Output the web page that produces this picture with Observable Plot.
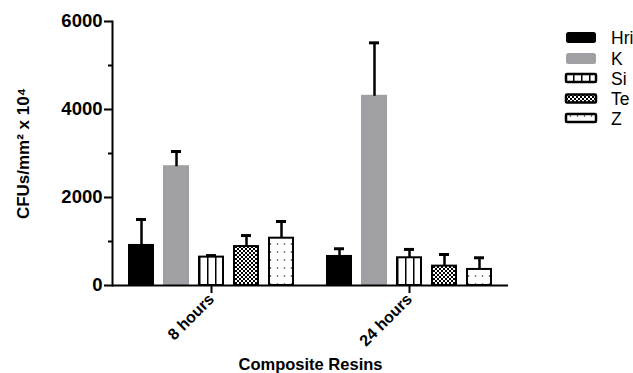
<!DOCTYPE html>
<html><head><meta charset="utf-8">
<script src="https://cdn.jsdelivr.net/npm/d3@7"></script>
<script src="https://cdn.jsdelivr.net/npm/@observablehq/plot@0.6"></script>
<style>
body{margin:0;background:#fff}
#wrap{position:relative;width:633px;height:373px;font-family:"Liberation Sans",Arial,sans-serif;background:#fff}
#legend{position:absolute;left:0;top:0}
</style>
</head><body>
<svg width="0" height="0" style="position:absolute">
<defs>
<pattern id="pSi" patternUnits="objectBoundingBox" width="0.333333" height="1">
<rect x="0" y="0" width="100" height="2000" fill="#fff"/><rect x="0" y="0" width="1.5" height="2000" fill="#000"/>
</pattern>
<pattern id="pTe" patternUnits="userSpaceOnUse" width="4" height="4">
<rect x="0" y="0" width="4" height="4" fill="#fff"/><rect x="0" y="0" width="2" height="2" fill="#000"/><rect x="2" y="2" width="2" height="2" fill="#000"/>
</pattern>
<pattern id="pZ" patternUnits="userSpaceOnUse" width="7" height="8">
<rect x="0" y="0" width="7" height="8" fill="#fff"/><circle cx="3.5" cy="4" r="0.8" fill="#333"/>
</pattern>
<pattern id="pSiL" patternUnits="userSpaceOnUse" x="565" y="0" width="8" height="10">
<rect x="0" y="0" width="8" height="10" fill="#fff"/><rect x="0" y="0" width="1.5" height="10" fill="#000"/>
</pattern>
</defs>
</svg>
<div id="wrap"></div>
<script>
const times = ["8 hours", "24 hours"];
const resins = ["Hri", "K", "Si", "Te", "Z"];
const mean8h = [910, 2700, 645, 885, 1075];
const err8h = [590, 345, 35, 250, 380];
const mean24h = [660, 4300, 630, 440, 365];
const err24h = [175, 1215, 190, 265, 265];
const yMajor = [0, 2000, 4000, 6000];
const yMinor = [1000, 3000, 5000];
const fills = ["#000", "#a0a0a4", "url(#pSi)", "url(#pTe)", "url(#pZ)"];
const legendFills = ["#000", "#a0a0a4", "url(#pSiL)", "url(#pTe)", "url(#pZ)"];

const means = [mean8h, mean24h];
const errs = [err8h, err24h];
const data = times.flatMap((t, i) => resins.map((r, j) => ({time: t, resin: r, mean: means[i][j], err: errs[i][j]})));

const font = "'Liberation Sans', Arial, sans-serif";
const chart = Plot.plot({
  width: 633, height: 373,
  marginLeft: 111, marginRight: 125, marginTop: 21, marginBottom: 88,
  style: {fontFamily: font, color: "#000", background: "transparent"},
  fx: {domain: times, padding: 0},
  x: {domain: resins, paddingInner: 0.314, paddingOuter: 0.47, axis: null},
  y: {domain: [0, 6000]},
  color: {domain: resins, range: fills},
  marks: [
    Plot.barY(data, {filter: d => d.resin !== "K", fx: "time", x: "resin", y: "mean", fill: "resin", stroke: "#000", strokeWidth: 2}),
    Plot.barY(data, {filter: d => d.resin === "K", fx: "time", x: "resin", y: "mean", fill: "resin", stroke: "#a0a0a4", strokeWidth: 2}),
    Plot.ruleX(data, {fx: "time", x: "resin", y1: "mean", y2: d => d.mean + d.err, stroke: "#000", strokeWidth: 2.5}),
    Plot.tickY(data, {fx: "time", x: "resin", y: d => d.mean + d.err, stroke: "#000", strokeWidth: 3, insetLeft: 7, insetRight: 7}),
    Plot.ruleY([0], {stroke: "#000", strokeWidth: 2}),
    Plot.frame({anchor: "left", facetAnchor: "left", stroke: "#000", strokeWidth: 2}),
    Plot.axisY({ticks: yMajor, tickSize: 8, tickPadding: 2, tickFormat: d => String(d), fontSize: 18.5, fontWeight: "bold", strokeWidth: 2, label: null}),
    Plot.axisY({ticks: yMinor, tickSize: 4, tickFormat: () => "", strokeWidth: 2, label: null}),
    Plot.axisY({ticks: [], tickSize: 0, label: "CFUs/mm² x 10⁴", labelAnchor: "center", labelOffset: 96, labelArrow: "none", fontSize: 17, fontWeight: "bold"}),
    Plot.axisFx({anchor: "bottom", tickSize: 8, tickPadding: 3, tickRotate: -45, fontSize: 16, fontWeight: "bold", strokeWidth: 2, label: null}),
    Plot.axisFx({anchor: "bottom", ticks: [], tickSize: 0, label: "Composite Resins", labelAnchor: "center", labelOffset: 84, labelArrow: "none", fontSize: 16.5, fontWeight: "bold"})
  ]
});
const wrap = document.getElementById("wrap");
wrap.appendChild(chart);

// legend
const rows = [
  {name: "Hri", cy: 37.5, h: 11, stroke: "none"},
  {name: "K", cy: 58.5, h: 11, stroke: "none"},
  {name: "Si", cy: 78, h: 8, stroke: "#000"},
  {name: "Te", cy: 98.5, h: 8, stroke: "#000"},
  {name: "Z", cy: 118, h: 8, stroke: "#000"}
];
const lg = d3.select(wrap).append("svg").attr("id", "legend").attr("width", 633).attr("height", 373);
const g = lg.selectAll("g").data(rows).join("g");
g.append("rect")
  .attr("x", 566).attr("width", 30)
  .attr("y", d => d.cy - d.h / 2).attr("height", d => d.h)
  .attr("rx", d => d.stroke === "none" ? 2.5 : 1)
  .attr("fill", d => legendFills[resins.indexOf(d.name)])
  .attr("stroke", d => d.stroke).attr("stroke-width", 2.5);
g.append("text")
  .attr("x", 611).attr("y", d => d.cy + 6.5)
  .attr("font-family", font).attr("font-size", 17.5)
  .text(d => d.name);
</script>
</body></html>
